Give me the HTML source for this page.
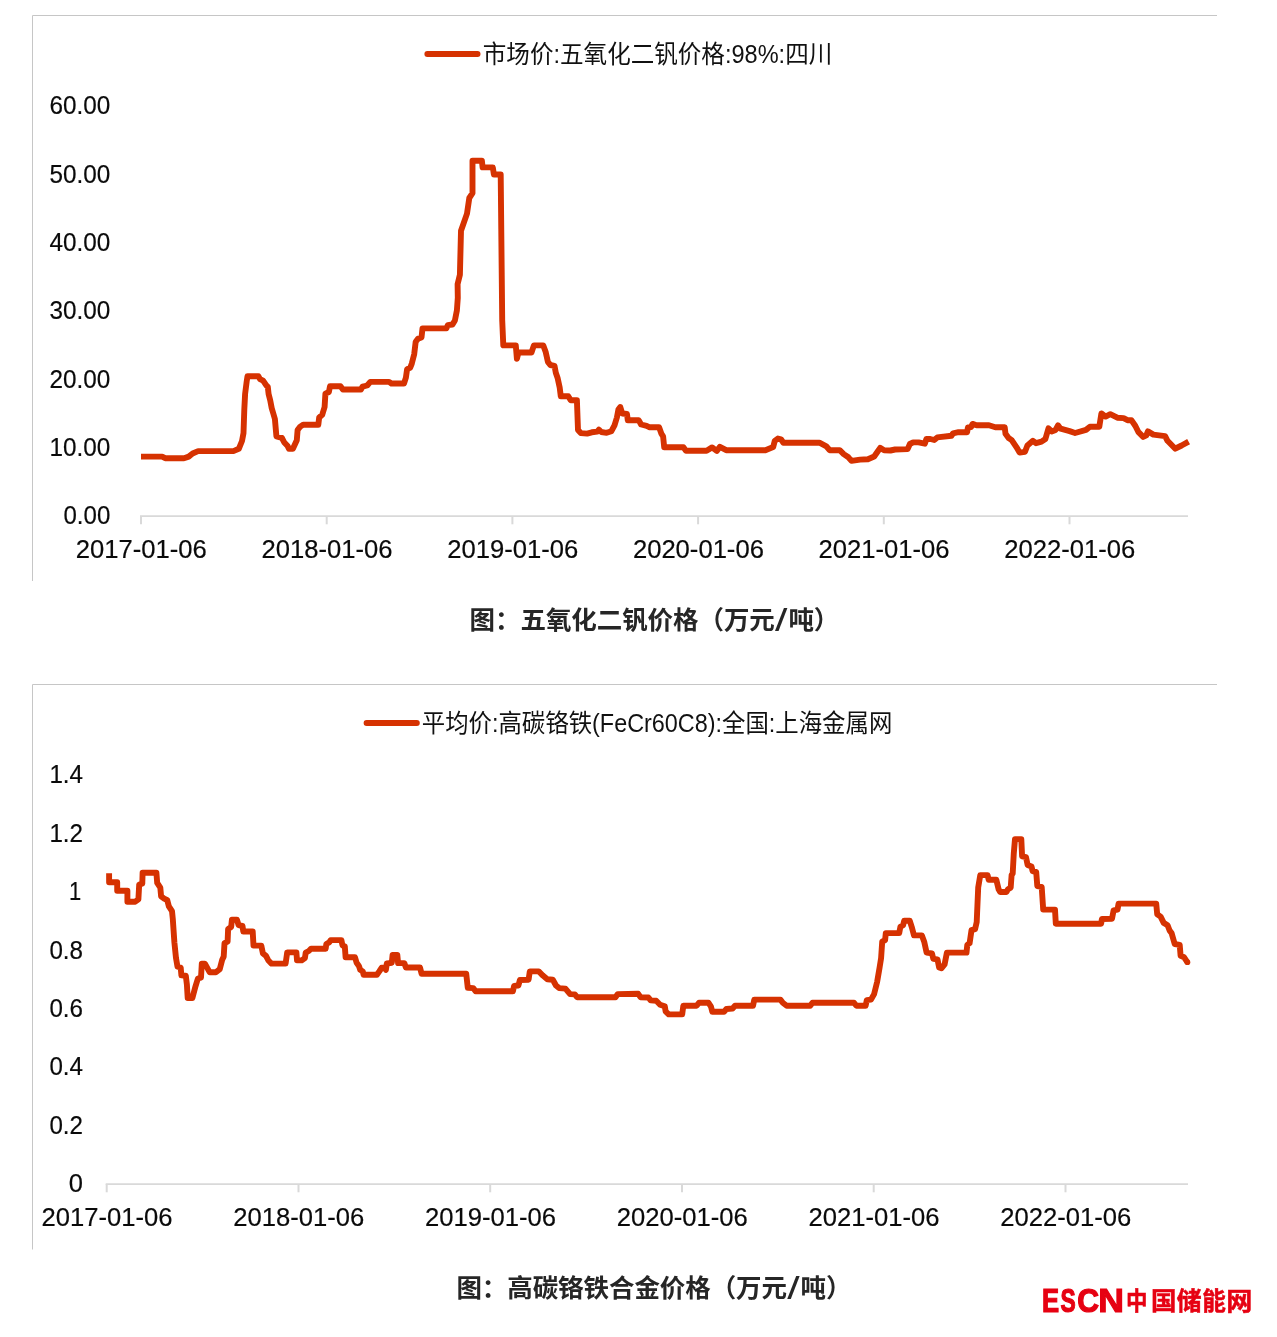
<!DOCTYPE html>
<html lang="zh-CN">
<head>
<meta charset="utf-8">
<title>五氧化二钒价格 / 高碳铬铁合金价格</title>
<style>
html,body{margin:0;padding:0;background:#fff;}
body{width:1277px;height:1337px;overflow:hidden;}
svg{display:block;}
.num{font-family:"Liberation Sans",sans-serif;font-size:26.4px;fill:#0a0a0a;stroke:#0a0a0a;stroke-width:0.2px;}
.leg{font-family:"Liberation Sans","Noto Sans CJK SC",sans-serif;font-size:25px;fill:#111;}
.cap{font-family:"Liberation Sans","Noto Sans CJK SC",sans-serif;font-size:25.5px;font-weight:bold;fill:#262626;}
.logoE{font-family:"Liberation Sans",sans-serif;font-weight:bold;font-size:34px;fill:#E60012;stroke:#E60012;stroke-width:1.2px;stroke-linejoin:miter;}
.logoC{font-family:"Liberation Sans","Noto Sans CJK SC",sans-serif;font-weight:700;font-size:24.6px;fill:#E60012;stroke:#E60012;stroke-width:0.5px;}
</style>
</head>
<body>
<svg width="1277" height="1337" viewBox="0 0 1277 1337">
<rect width="1277" height="1337" fill="#fff"/>
<g opacity="0.999">
<!-- chart 1 frame -->
<path d="M32.5 581V15.5H1217" stroke="#c6c6c6" stroke-width="1" fill="none"/>
<path d="M427.4 54.1H477.5" stroke="#D63200" stroke-width="6" stroke-linecap="round" fill="none"/>
<text class="leg" x="482.8" y="62.8" textLength="349.5" lengthAdjust="spacingAndGlyphs">市场价:五氧化二钒价格:98%:四川</text>
<text class="num" x="110.3" y="524.4" text-anchor="end" textLength="46.8" lengthAdjust="spacingAndGlyphs">0.00</text>
<text class="num" x="110.3" y="456.1" text-anchor="end" textLength="60.8" lengthAdjust="spacingAndGlyphs">10.00</text>
<text class="num" x="110.3" y="387.7" text-anchor="end" textLength="60.8" lengthAdjust="spacingAndGlyphs">20.00</text>
<text class="num" x="110.3" y="319.4" text-anchor="end" textLength="60.8" lengthAdjust="spacingAndGlyphs">30.00</text>
<text class="num" x="110.3" y="251.1" text-anchor="end" textLength="60.8" lengthAdjust="spacingAndGlyphs">40.00</text>
<text class="num" x="110.3" y="182.8" text-anchor="end" textLength="60.8" lengthAdjust="spacingAndGlyphs">50.00</text>
<text class="num" x="110.3" y="114.4" text-anchor="end" textLength="60.8" lengthAdjust="spacingAndGlyphs">60.00</text>
<path d="M140 516.2H1188" stroke="#d9d9d9" stroke-width="1.8" fill="none"/>
<path d="M141 516V524.3" stroke="#d9d9d9" stroke-width="2" fill="none"/>
<path d="M326.7 516V524.3" stroke="#d9d9d9" stroke-width="2" fill="none"/>
<path d="M512.4 516V524.3" stroke="#d9d9d9" stroke-width="2" fill="none"/>
<path d="M698.1 516V524.3" stroke="#d9d9d9" stroke-width="2" fill="none"/>
<path d="M883.8 516V524.3" stroke="#d9d9d9" stroke-width="2" fill="none"/>
<path d="M1069.5 516V524.3" stroke="#d9d9d9" stroke-width="2" fill="none"/>
<text class="num" x="141.3" y="558.4" text-anchor="middle" textLength="131" lengthAdjust="spacingAndGlyphs">2017-01-06</text>
<text class="num" x="327.0" y="558.4" text-anchor="middle" textLength="131" lengthAdjust="spacingAndGlyphs">2018-01-06</text>
<text class="num" x="512.6999999999999" y="558.4" text-anchor="middle" textLength="131" lengthAdjust="spacingAndGlyphs">2019-01-06</text>
<text class="num" x="698.4" y="558.4" text-anchor="middle" textLength="131" lengthAdjust="spacingAndGlyphs">2020-01-06</text>
<text class="num" x="884.0999999999999" y="558.4" text-anchor="middle" textLength="131" lengthAdjust="spacingAndGlyphs">2021-01-06</text>
<text class="num" x="1069.8" y="558.4" text-anchor="middle" textLength="131" lengthAdjust="spacingAndGlyphs">2022-01-06</text>
<polyline points="141,456.6 162.1,456.6 165.2,458.2 184,458.2 188.7,456.6 192.6,453.5 198.1,451.1 233.4,451.1 238.8,448.8 242,441 243.5,433.1 244.3,409.6 245.1,394 246.7,381.4 247.5,376.3 258.4,376.3 260,379.1 263.1,380.7 266.3,385.4 267.8,386.9 268.6,394 270.2,400.2 271.7,408.1 273.3,413.5 274.9,419 276.4,436.3 281.9,437.8 284.3,442.5 287.4,445.7 289,448.8 292.9,448.8 296.8,440.2 297.6,430 299.9,426.9 303.1,424.8 318.3,424.8 319.2,417.4 322.2,414.8 324.6,407 325.4,393.7 328.9,392 330,386.3 340.5,386.3 342.9,389.5 360.9,389.5 362.5,386.6 367.2,385.5 370.3,381.9 389.1,381.9 391.4,383.5 404,383.5 405.9,377.7 407.1,369.1 410.2,367.8 411.8,363.6 414.2,354.2 415.7,341.7 418.1,338.6 421.5,337.5 422.5,328.4 446.3,328.4 447.8,325.2 452.5,324.5 454.9,320.5 456.9,310.4 457.8,297.8 457.6,284.1 459.9,274.7 461,230.8 467,213.6 469.3,198 472.5,193.2 472.5,160.8 481.9,160.8 482.6,167.4 492.8,167.4 493.9,174.5 500.7,174.5 502.2,320 503.3,345.4 515.8,345.4 516.9,358.7 518.5,352.5 531.5,352.5 533.9,345.4 543.3,345.4 545.6,351.7 547.9,361.9 550.3,365 554.5,365.8 555.8,372.8 557.7,378.3 559.7,387.7 560.8,396.3 568.3,396.3 570.7,400.2 576.9,400.2 578,430 580.8,433.1 587.1,433.6 591.8,432.3 597.3,431.6 598.9,429.7 601.2,432 606.7,432.8 611.4,431.2 614.5,425.3 616.9,417.5 618.4,409.6 620.3,407 622.3,413.5 627,414 627.8,420.3 638.8,420.3 641.1,424.5 646.6,425.8 649.7,427.3 659.1,427.3 661.5,433.9 663.1,436.3 664.2,447.2 683.4,447.2 685.8,450.7 706.6,450.7 712.1,447.4 716.8,451 719.9,446.8 726.2,450.2 765.4,450.2 773.2,447.1 774.8,440.8 777.9,438.5 781,439.3 783.4,442.7 819.4,442.7 826.4,446.3 829.6,450.2 839.7,450.2 843.7,454.1 848.4,457.3 851.5,460.9 860.1,459.6 867.9,459.2 874.2,456.5 877.5,451.8 880.2,447.9 884.1,450.2 890.4,450.5 895.1,449.5 907.6,449.1 909.9,444 913.1,442.4 918.6,442.4 924.8,443.7 926.4,439 930.3,439 934.2,440 937.3,437.4 951.4,435.8 953,433.3 958.5,432.2 967.1,432.2 967.9,427.5 971,427.1 972.6,423.9 976.5,425.2 989,425.2 995.3,427.2 1004.7,427.2 1005.5,433.8 1008.6,438 1011.7,440.1 1016.4,447.1 1019.6,452.6 1025,451.8 1027.4,445.5 1032.9,440.8 1036,443.2 1041.5,441.6 1045.4,439 1048.5,428.3 1051.7,431.4 1055.6,429.9 1058,425.3 1060.6,428.7 1069.6,431.1 1075.1,433 1086,429.9 1089.9,426.7 1099.3,426.7 1101.4,413.4 1105.6,416.6 1110.3,414.2 1117.3,417.7 1123.6,418.1 1127.5,420.2 1131.4,420.2 1135.4,426 1138.5,432.2 1143.2,436.9 1146.3,435.4 1147.9,431.4 1153.4,434.6 1165.1,436.1 1167.5,440.8 1175.3,448.7 1181.6,445.5 1188.6,441.6" fill="none" stroke="#D63200" stroke-width="5.9" stroke-linejoin="round" stroke-linecap="butt"/>
<text class="cap" y="629.1" x="469.6 495.0 520.5 545.9 571.3 596.8 622.2 647.6 673.0 698.5 723.9 749.3">图：五氧化二钒价格（万元</text>
<text class="cap" style="font-size:30.8px;font-weight:500" transform="translate(775.1 631.0) scale(1.45 1)">/</text>
<text class="cap" y="629.1" x="788.4 813.8">吨）</text>
<!-- chart 2 frame -->
<path d="M32.5 1249.5V684.5H1217" stroke="#c6c6c6" stroke-width="1" fill="none"/>
<path d="M366.6 722.9H416.8" stroke="#D63200" stroke-width="6" stroke-linecap="round" fill="none"/>
<text class="leg" x="421.8" y="731.8" textLength="470.5" lengthAdjust="spacingAndGlyphs">平均价:高碳铬铁(FeCr60C8):全国:上海金属网</text>
<text class="num" x="83" y="1192.3" text-anchor="end" textLength="14.2" lengthAdjust="spacingAndGlyphs">0</text>
<text class="num" x="83" y="1133.9" text-anchor="end" textLength="33.6" lengthAdjust="spacingAndGlyphs">0.2</text>
<text class="num" x="83" y="1075.4" text-anchor="end" textLength="33.6" lengthAdjust="spacingAndGlyphs">0.4</text>
<text class="num" x="83" y="1017.0" text-anchor="end" textLength="33.6" lengthAdjust="spacingAndGlyphs">0.6</text>
<text class="num" x="83" y="958.6" text-anchor="end" textLength="33.6" lengthAdjust="spacingAndGlyphs">0.8</text>
<text class="num" x="81.3" y="900.1" text-anchor="end" textLength="12.2" lengthAdjust="spacingAndGlyphs">1</text>
<text class="num" x="83" y="841.7" text-anchor="end" textLength="33.6" lengthAdjust="spacingAndGlyphs">1.2</text>
<text class="num" x="83" y="783.3" text-anchor="end" textLength="33.6" lengthAdjust="spacingAndGlyphs">1.4</text>
<path d="M105.7 1184.2H1188" stroke="#d9d9d9" stroke-width="1.8" fill="none"/>
<path d="M106.7 1184V1192.3" stroke="#d9d9d9" stroke-width="2" fill="none"/>
<path d="M298.5 1184V1192.3" stroke="#d9d9d9" stroke-width="2" fill="none"/>
<path d="M490.2 1184V1192.3" stroke="#d9d9d9" stroke-width="2" fill="none"/>
<path d="M682.0 1184V1192.3" stroke="#d9d9d9" stroke-width="2" fill="none"/>
<path d="M873.7 1184V1192.3" stroke="#d9d9d9" stroke-width="2" fill="none"/>
<path d="M1065.5 1184V1192.3" stroke="#d9d9d9" stroke-width="2" fill="none"/>
<text class="num" x="107.0" y="1226.4" text-anchor="middle" textLength="131" lengthAdjust="spacingAndGlyphs">2017-01-06</text>
<text class="num" x="298.8" y="1226.4" text-anchor="middle" textLength="131" lengthAdjust="spacingAndGlyphs">2018-01-06</text>
<text class="num" x="490.5" y="1226.4" text-anchor="middle" textLength="131" lengthAdjust="spacingAndGlyphs">2019-01-06</text>
<text class="num" x="682.3" y="1226.4" text-anchor="middle" textLength="131" lengthAdjust="spacingAndGlyphs">2020-01-06</text>
<text class="num" x="874.0" y="1226.4" text-anchor="middle" textLength="131" lengthAdjust="spacingAndGlyphs">2021-01-06</text>
<text class="num" x="1065.8" y="1226.4" text-anchor="middle" textLength="131" lengthAdjust="spacingAndGlyphs">2022-01-06</text>
<polyline points="109.1,873.2 109.1,882.2 117.2,882.2 117.2,890.8 127.4,890.8 127.4,901.7 135.2,901.7 138.4,899.4 139.2,884.5 142.3,883.7 142.6,872.8 156.4,872.8 157.2,882.9 160.3,887.6 161.1,896.3 164.2,898.6 167.3,900.2 168.9,906.4 172,911.1 172.8,919 174.4,942.5 176,958.1 177.5,966.7 180.7,967.5 181.4,975.4 185.8,975.7 186.9,984.7 187.7,998.1 192.4,998.1 195.5,986.3 197.9,978.5 201,977.7 201.8,963.6 204.9,963.6 209.6,972.2 215.9,972.2 219.8,969.1 222.2,959.7 223.7,956.6 224.5,943.2 227.6,941.7 228.1,929.2 231.2,926.8 231.9,919.8 237,919.8 238.6,925.2 242.5,926 243.3,931.5 252.7,931.5 253.5,945.6 261.3,945.6 262.9,953.4 266,955.8 268.4,960.5 271.5,963.6 285.6,963.6 287.2,952.4 296.4,952.4 297,960.4 301.7,960.4 304.9,958.1 305.7,952.6 308.8,951 311.1,948.7 325.7,948.7 326.3,944 329.2,942.4 330.7,940.1 341.4,940.1 342.5,945.5 344.8,946.3 345.6,957.3 355,957.3 356.6,962.8 358.9,965.9 360.2,969.8 362.8,971.4 363.6,974.8 376.9,974.8 379.3,971.4 381.6,967.8 384.8,967.8 385.9,969.8 386.8,963.5 391.8,962.8 392.6,954.9 397.3,954.9 398.1,963.1 404.3,963.1 405.9,967.5 420,967.5 421.6,973.7 466.2,973.7 467.8,987.8 473.2,988.1 475.6,991.3 512.9,991.3 514.1,985.9 518.4,985.5 519.9,980 528.6,979.7 529.8,971.4 538.7,971.4 542.6,975.3 547.3,979.2 552.8,979.7 556,985.5 559.1,988.1 565.4,988.6 570.1,994.1 574.8,994.4 577.1,997.2 615.5,997.2 617.8,994.1 638.2,993.8 640.5,997.2 648.4,997.5 650.7,1000.4 656.2,1000.7 660.1,1004.7 664.8,1006.3 665.6,1011.3 668.7,1014.4 682.2,1014.4 683.3,1005.8 696.6,1005.8 699,1002.7 708.4,1002.7 711,1006.6 712.3,1011.8 724,1011.8 726.4,1009 732.6,1008.5 735,1005.8 753,1005.8 754.3,999.6 780.4,999.6 782.8,1002.7 786.7,1005.8 810.2,1005.8 812.5,1002.7 854,1002.7 856.4,1005.8 865.6,1005.8 866.8,1000.2 871,999.6 874.1,994.1 877.2,981.6 879.6,967.5 881.1,958.1 882.2,941.7 885.1,940.1 885.8,933.1 899.2,933.1 900.4,926.8 903.1,925.2 904.2,920.8 909.8,920.8 911.7,926.8 914,935.4 921.9,935.4 924.2,941.7 926.6,952.6 932,953.4 933.3,958.9 937.5,959.4 939.1,967.5 941.4,968.3 944.6,964.4 946.9,952.6 966.5,952.6 967.3,944.8 969.6,943.2 971.5,930.2 975.1,929.2 976.7,922.1 978.2,887.6 980.3,875.1 987.6,875.1 988.7,879.8 996.3,879.8 998.6,889.2 1000.2,892 1006.4,892 1008,889.2 1010.7,887.6 1011.6,875.1 1012.7,873.6 1013.8,853.2 1015,839.1 1021.3,839.1 1022.1,856.3 1026,857.1 1027.6,864.9 1031.5,866.5 1032.6,871.2 1036.2,872 1037.3,886.1 1041.7,886.9 1043.2,909.6 1055,909.6 1055.8,923.7 1101.1,923.7 1101.9,919 1112,918.7 1113.6,910.4 1117.5,909.6 1118.6,903.6 1156.2,903.6 1157.2,914.3 1160.6,916.6 1163.7,922.9 1167.6,925.2 1169.7,930.7 1171.6,933.1 1174.7,944 1179.7,944.8 1180.6,955.8 1184.1,957.3 1187.2,962" fill="none" stroke="#D63200" stroke-width="5.9" stroke-linejoin="round" stroke-linecap="butt"/>
<circle cx="1187.4" cy="962.2" r="2.9" fill="#D63200"/>
<text class="cap" y="1296.6" x="456.4 481.8 507.3 532.7 558.1 583.5 609.0 634.4 659.8 685.3 710.7 736.1 761.6">图：高碳铬铁合金价格（万元</text>
<text class="cap" style="font-size:30.8px;font-weight:500" transform="translate(787.3 1298.5) scale(1.45 1)">/</text>
<text class="cap" y="1296.6" x="800.6 826.0">吨）</text>
<text class="logoE" transform="translate(1042.05 1312.3) scale(0.756 1)">E</text>
<text class="logoE" transform="translate(1060.42 1312.3) scale(0.671 1)">S</text>
<text class="logoE" transform="translate(1077.2 1312.3) scale(0.888 1)">C</text>
<text class="logoE" transform="translate(1098.34 1312.3) scale(1.047 1)">N</text>
<text class="logoC" transform="translate(1125.98 1310.4) scale(0.875 1)">中</text>
<text class="logoC" transform="translate(1151.12 1310.4) scale(1.035 1)">国</text>
<text class="logoC" transform="translate(1176.76 1310.4) scale(1.01 1)">储</text>
<text class="logoC" transform="translate(1202.36 1310.4) scale(0.96 1)">能</text>
<text class="logoC" transform="translate(1226.18 1310.4) scale(1.06 1)">网</text>
</g>
</svg>
</body>
</html>
